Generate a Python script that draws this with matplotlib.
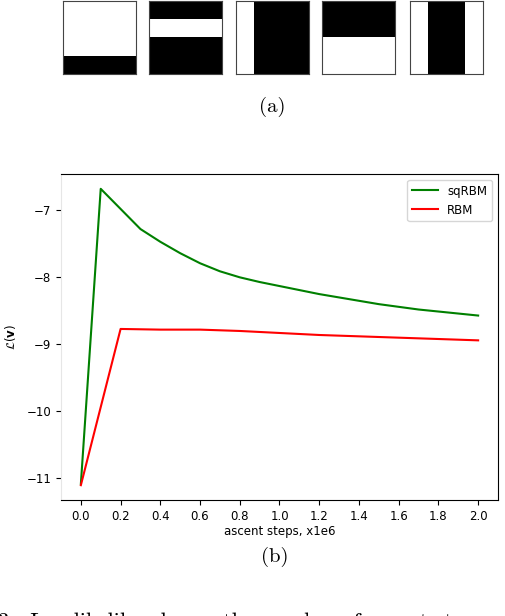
import numpy as np
import matplotlib
matplotlib.use("Agg")
import matplotlib.pyplot as plt

# (a) binary 4x4 patterns, 1 = black
patterns = [
    [[0, 0, 0, 0], [0, 0, 0, 0], [0, 0, 0, 0], [1, 1, 1, 1]],
    [[1, 1, 1, 1], [0, 0, 0, 0], [1, 1, 1, 1], [1, 1, 1, 1]],
    [[0, 1, 1, 1], [0, 1, 1, 1], [0, 1, 1, 1], [0, 1, 1, 1]],
    [[1, 1, 1, 1], [1, 1, 1, 1], [0, 0, 0, 0], [0, 0, 0, 0]],
    [[0, 1, 1, 0], [0, 1, 1, 0], [0, 1, 1, 0], [0, 1, 1, 0]],
]

# (b) log-likelihood vs ascent steps (x1e6)
sq_steps = [0.0, 0.1, 0.2, 0.3, 0.4, 0.5, 0.6, 0.7, 0.8, 0.9, 1.0,
            1.1, 1.2, 1.3, 1.4, 1.5, 1.6, 1.7, 1.8, 1.9, 2.0]
sq_ll = [-11.08, -6.68, -6.98, -7.28, -7.47, -7.64, -7.79, -7.91, -8.00, -8.07, -8.13,
         -8.19, -8.25, -8.30, -8.35, -8.40, -8.44, -8.48, -8.51, -8.54, -8.57]
rbm_steps = [0.0, 0.2, 0.4, 0.6, 0.8, 1.0, 1.2, 1.4, 1.6, 1.8, 2.0]
rbm_ll = [-11.10, -8.77, -8.78, -8.78, -8.80, -8.83, -8.86, -8.88, -8.90, -8.92, -8.94]

W, H = 506, 616
fig = plt.figure(figsize=(W / 100, H / 100), dpi=100)

# squares row
sq_left = [63, 149, 236, 322, 410]
for px, pat in zip(sq_left, patterns):
    ax = fig.add_axes([px / W, 1 - 74 / H, 73 / W, 73 / H])
    ax.imshow(np.array(pat), cmap="gray_r", vmin=0, vmax=1,
              interpolation="nearest", aspect="auto")
    ax.set_xticks([])
    ax.set_yticks([])
    for s in ax.spines.values():
        s.set_color("#444444")
        s.set_linewidth(0.8)

fig.text(272 / W, 1 - 107 / H, "(a)", family="cmr10", fontsize=15,
         ha="center", va="center")

# line chart
ax = fig.add_axes([61 / W, 1 - 500 / H, 437 / W, 326 / H])
ax.plot(sq_steps, sq_ll, color="green", lw=1.5, label="sqRBM")
ax.plot(rbm_steps, rbm_ll, color="red", lw=1.5, label="RBM")
ax.set_xticks(np.arange(0, 2.01, 0.2))
ax.set_yticks([-11, -10, -9, -8, -7])
ax.tick_params(labelsize=8.5)
ax.set_xlabel("ascent steps, x1e6", fontsize=8.5, labelpad=2)
ax.set_ylabel(r"$\mathcal{L}(\mathbf{v})$", fontsize=8.5, labelpad=6)
ax.spines["left"].set_color("#e6e6e6")
ax.legend(loc="upper right", fontsize=8.5, handlelength=2.2)

fig.text(275 / W, 1 - 557 / H, "(b)", family="cmr10", fontsize=15,
         ha="center", va="center")

# caption, cut off by the page edge as in the source
fig.text(-2 / W, 1 - 612 / H, "3.  Log-likelihood over the number of ascent steps",
         family="cmr10", fontsize=16, ha="left", va="top")

fig.savefig("out.png", dpi=100)
